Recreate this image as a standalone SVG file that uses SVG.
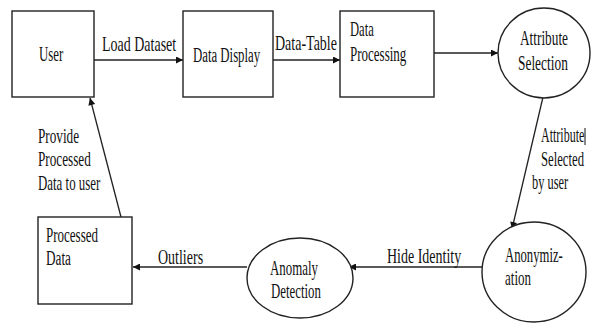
<svg xmlns="http://www.w3.org/2000/svg" width="592" height="326" viewBox="0 0 592 326">
<style>
.n{fill:#fff;stroke:#222;stroke-width:1.4}
.c{stroke:#222;stroke-width:1.3;fill:none}
text{font-family:"Liberation Serif","Times New Roman",serif;font-size:20px;fill:#111}
</style>
<defs>
<marker id="a" viewBox="0 0 10 10" refX="10" refY="5" markerWidth="8" markerHeight="7" markerUnits="userSpaceOnUse" orient="auto"><path d="M0,0L10,5L0,10z" fill="#111"/></marker>
</defs>
<rect width="592" height="326" fill="#fff"/>
<g id="connectors">
<line class="c" x1="94" y1="60" x2="183" y2="60" marker-end="url(#a)"/>
<line class="c" x1="273" y1="60" x2="340" y2="60" marker-end="url(#a)"/>
<line class="c" x1="434" y1="53" x2="498" y2="53" marker-end="url(#a)"/>
<line class="c" x1="543" y1="97" x2="512" y2="229" marker-end="url(#a)"/>
<line class="c" x1="482" y1="267" x2="349" y2="267" marker-end="url(#a)"/>
<line class="c" x1="247" y1="267" x2="133" y2="267" marker-end="url(#a)"/>
<line class="c" x1="121" y1="217" x2="90" y2="98" marker-end="url(#a)"/>
<text transform="translate(102,51) scale(0.7,1)">Load Dataset</text>
<text transform="translate(275,50) scale(0.7,1)">Data-Table</text>
<text transform="translate(541,142) scale(0.6,1)">Attribute</text>
<line x1="585" y1="128" x2="585" y2="145" stroke="#111" stroke-width="1"/>
<text transform="translate(541,166) scale(0.635,1)">Selected</text>
<text transform="translate(532,189) scale(0.62,1)">by user</text>
<text transform="translate(387,263) scale(0.7,1)">Hide Identity</text>
<text transform="translate(158,264) scale(0.7,1)">Outliers</text>
<text transform="translate(38,143) scale(0.66,1)">Provide</text>
<text transform="translate(38,166) scale(0.66,1)">Processed</text>
<text transform="translate(38,190) scale(0.645,1)">Data to user</text>
</g>
<g id="user">
<rect class="n" x="12" y="11" width="82" height="86"/>
<text transform="translate(39,61) scale(0.64,1)">User</text>
</g>
<g id="data-display">
<rect class="n" x="183" y="11" width="90" height="86"/>
<text transform="translate(193,62) scale(0.64,1)">Data Display</text>
</g>
<g id="data-processing">
<rect class="n" x="340" y="11" width="94" height="86"/>
<text transform="translate(350,36) scale(0.63,1)">Data</text>
<text transform="translate(350,61) scale(0.65,1)">Processing</text>
</g>
<g id="attribute-selection">
<ellipse class="n" cx="544" cy="53" rx="46" ry="45"/>
<text transform="translate(520,45) scale(0.665,1)">Attribute</text>
<text transform="translate(518,70) scale(0.67,1)">Selection</text>
</g>
<g id="anonymization">
<ellipse class="n" cx="534" cy="272" rx="52" ry="50"/>
<text transform="translate(505,262) scale(0.635,1)">Anonymiz-</text>
<text transform="translate(505,285) scale(0.65,1)">ation</text>
</g>
<g id="anomaly-detection">
<ellipse class="n" cx="300" cy="278" rx="53" ry="40"/>
<text transform="translate(270,275) scale(0.645,1)">Anomaly</text>
<text transform="translate(271,298) scale(0.643,1)">Detection</text>
</g>
<g id="processed-data">
<rect class="n" x="38" y="217" width="94" height="87"/>
<text transform="translate(46,242) scale(0.65,1)">Processed</text>
<text transform="translate(46,265) scale(0.66,1)">Data</text>
</g>
</svg>
